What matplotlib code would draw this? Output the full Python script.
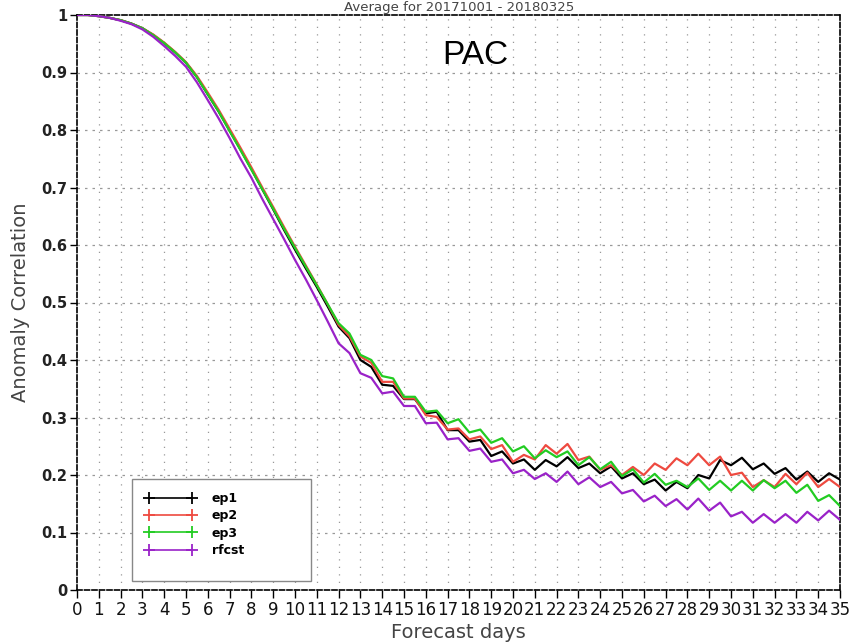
import matplotlib
matplotlib.use("Agg")
import matplotlib.pyplot as plt
from matplotlib.lines import Line2D
from matplotlib.patches import Rectangle
import numpy as np

# Forecast lead (days), 12-hourly
days = [i * 0.5 for i in range(71)]

ep1 = [1.000, 1.000, 0.998, 0.995, 0.991, 0.985, 0.977, 0.965, 0.951, 0.935,
       0.917, 0.892, 0.862, 0.832, 0.799, 0.766, 0.732, 0.697, 0.662, 0.626,
       0.592, 0.559, 0.527, 0.493, 0.458, 0.438, 0.400, 0.388, 0.357, 0.355,
       0.332, 0.332, 0.307, 0.310, 0.278, 0.278, 0.258, 0.261, 0.233, 0.241,
       0.220, 0.227, 0.209, 0.226, 0.215, 0.231, 0.212, 0.220, 0.203, 0.215,
       0.194, 0.203, 0.184, 0.192, 0.173, 0.188, 0.177, 0.200, 0.194, 0.226,
       0.217, 0.230, 0.210, 0.220, 0.202, 0.212, 0.192, 0.206, 0.188, 0.203,
       0.192]

ep2 = [1.000, 1.000, 0.998, 0.995, 0.991, 0.985, 0.977, 0.966, 0.952, 0.936,
       0.918, 0.894, 0.865, 0.835, 0.802, 0.769, 0.735, 0.700, 0.666, 0.631,
       0.597, 0.564, 0.531, 0.497, 0.461, 0.441, 0.406, 0.395, 0.362, 0.362,
       0.333, 0.333, 0.304, 0.301, 0.279, 0.281, 0.262, 0.267, 0.245, 0.252,
       0.223, 0.235, 0.227, 0.252, 0.237, 0.254, 0.226, 0.232, 0.209, 0.217,
       0.200, 0.214, 0.200, 0.220, 0.209, 0.229, 0.217, 0.237, 0.217, 0.232,
       0.200, 0.204, 0.179, 0.191, 0.179, 0.202, 0.184, 0.204, 0.179, 0.193,
       0.179]

ep3 = [1.000, 1.000, 0.998, 0.995, 0.991, 0.985, 0.977, 0.965, 0.951, 0.935,
       0.917, 0.892, 0.862, 0.832, 0.798, 0.765, 0.731, 0.697, 0.663, 0.628,
       0.595, 0.562, 0.530, 0.497, 0.464, 0.446, 0.409, 0.400, 0.372, 0.368,
       0.336, 0.336, 0.310, 0.312, 0.290, 0.297, 0.274, 0.279, 0.256, 0.264,
       0.241, 0.250, 0.229, 0.243, 0.231, 0.241, 0.217, 0.231, 0.210, 0.223,
       0.198, 0.210, 0.187, 0.202, 0.183, 0.190, 0.179, 0.194, 0.174, 0.190,
       0.173, 0.190, 0.173, 0.191, 0.177, 0.190, 0.169, 0.183, 0.155, 0.165,
       0.146]

rfcst = [1.000, 1.000, 0.998, 0.995, 0.990, 0.984, 0.975, 0.962, 0.946, 0.929,
         0.910, 0.883, 0.852, 0.820, 0.786, 0.750, 0.717, 0.680, 0.645, 0.610,
         0.574, 0.540, 0.504, 0.467, 0.429, 0.412, 0.377, 0.369, 0.342, 0.345,
         0.320, 0.320, 0.290, 0.291, 0.262, 0.264, 0.242, 0.246, 0.223, 0.227,
         0.203, 0.209, 0.193, 0.203, 0.188, 0.206, 0.184, 0.196, 0.179, 0.188,
         0.168, 0.174, 0.154, 0.164, 0.146, 0.158, 0.140, 0.159, 0.138, 0.152,
         0.128, 0.136, 0.117, 0.132, 0.117, 0.132, 0.117, 0.136, 0.121, 0.138,
         0.122]

series_names = ["ep1", "ep2", "ep3", "rfcst"]
series_colors = ["#000000", "#ee4a40", "#22cc22", "#9a22c8"]

xticks = list(range(0, 36))
yticks = [0, 0.1, 0.2, 0.3, 0.4, 0.5, 0.6, 0.7, 0.8, 0.9, 1.0]
ytick_labels = ["0", "0.1", "0.2", "0.3", "0.4", "0.5", "0.6", "0.7", "0.8", "0.9", "1"]

fig = plt.figure(figsize=(8.51, 6.42), dpi=100)
ax = fig.add_axes([77/851, 1 - 590/642, (840 - 77)/851, (590 - 15)/642])

for name, data, col in zip(series_names, [ep1, ep2, ep3, rfcst], series_colors):
    ax.plot(days, data, color=col, lw=1.6, label=name, zorder=3)

ax.set_xlim(0, 35)
ax.set_ylim(0, 1)
ax.set_xticks(xticks)
ax.set_xticklabels([str(t) for t in xticks], fontsize=12, color="#111111")
ax.set_yticks(yticks)
ax.set_yticklabels(ytick_labels, fontsize=10.5, fontweight="bold", color="#222222")

# grid
for xv in xticks[1:-1]:
    ax.axvline(xv, color="#999999", lw=0.9, ls=(0, (1, 5)), zorder=1)
for yv in yticks[1:-1]:
    ax.axhline(yv, color="#999999", lw=0.9, ls=(0, (2, 4)), zorder=1)

for s in ax.spines.values():
    s.set_linestyle((0, (3, 1.5)))
    s.set_linewidth(1.2)
    s.set_color("black")

ax.tick_params(axis="x", direction="out", length=6, width=1, pad=2)
ax.tick_params(axis="y", direction="out", length=5, width=1, pad=2)

ax.set_xlabel("Forecast days", fontsize=14, color="#444444", labelpad=3)
ax.set_ylabel("Anomaly Correlation", fontsize=14, color="#444444", labelpad=8)

ax.text(0.522, 0.93, "PAC", transform=ax.transAxes, fontsize=24, ha="center", va="center",
        family="Liberation Sans")

fig.text(0.54, 0.999, "Average for 20171001 - 20180325", ha="center", va="top",
         fontsize=9.5, color="#444444")

# legend box
rect = Rectangle((0.072, 0.0157), 0.235, 0.177, transform=ax.transAxes, facecolor="white",
                 edgecolor="#888888", lw=1.0, zorder=4)
ax.add_patch(rect)
handles = [Line2D([0], [0], color=c, lw=1.2, marker="+", markersize=9, markeredgewidth=1.3)
           for c in series_colors]
leg = ax.legend(handles, series_names, loc="upper left", bbox_to_anchor=(0.075, 0.19),
                frameon=False, handlelength=4.0, numpoints=2, labelspacing=0.35,
                handletextpad=1.3, prop={"size": 9, "weight": "bold"})
leg.set_zorder(5)

fig.savefig("out.png", dpi=100)
